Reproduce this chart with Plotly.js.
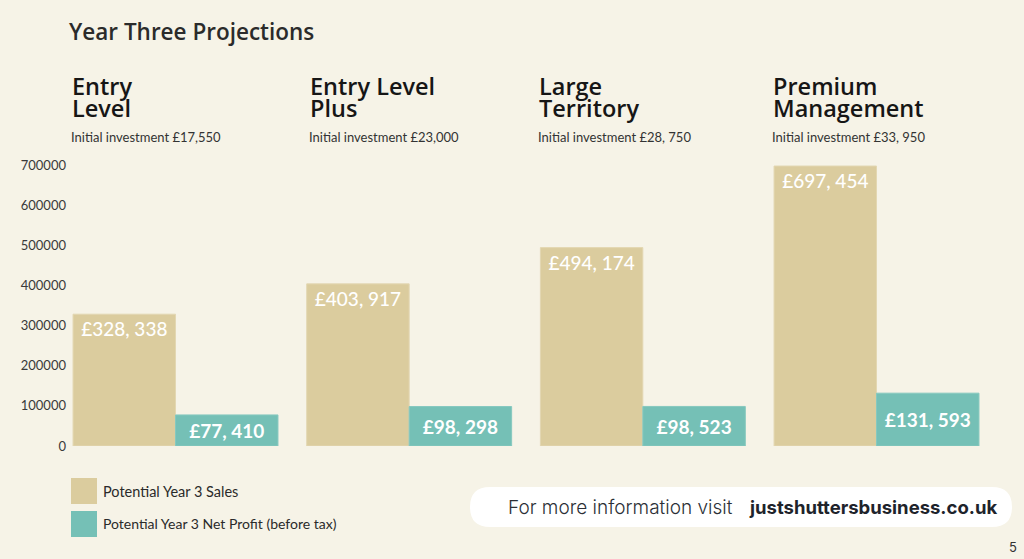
<!DOCTYPE html>
<html>
<head>
<meta charset="utf-8">
<script src="https://cdn.plot.ly/plotly-3.0.1.min.js"></script>
<style>html,body{margin:0;padding:0;background:#f6f3e7;}#chart{width:1024px;height:559px;}</style>
</head>
<body>
<div id="chart"></div>
<script>
// ---- data ----
const categories = ["Entry Level", "Entry Level Plus", "Large Territory", "Premium Management"];
const headingLines = [["Entry", "Level"], ["Entry Level", "Plus"], ["Large", "Territory"], ["Premium", "Management"]];
const investments = ["Initial investment £17,550", "Initial investment £23,000", "Initial investment £28, 750", "Initial investment £33, 950"];
const salesValues = [328338, 403917, 494174, 697454];
const profitValues = [77410, 98298, 98523, 131593];
const salesLabels = ["£328, 338", "£403, 917", "£494, 174", "£697, 454"];
const profitLabels = ["£77, 410", "£98, 298", "£98, 523", "£131, 593"];
const seriesNames = ["Potential Year 3 Sales", "Potential Year 3 Net Profit (before tax)"];
const yTicks = [0, 100000, 200000, 300000, 400000, 500000, 600000, 700000];

// ---- layout helpers ----
const W = 1024, H = 559;
const M = {l: 70, r: 31, t: 165, b: 113};
const PW = W - M.l - M.r, PH = H - M.t - M.b;
const px = x => (x - M.l) / PW;          // pixel -> paper x
const py = y => (H - M.b - y) / PH;      // pixel -> paper y
const SALES = "#dbcc9e", PROFIT = "#75c0b6";
const FONT = "Lato, 'Open Sans', sans-serif";
const HFONT = "'Open Sans', Lato, sans-serif";

const traces = [
  {type: "bar", x: categories, y: salesValues, name: seriesNames[0], text: salesLabels,
   marker: {color: SALES, line: {color: "#e3d7b2", width: 1}},
   textposition: "inside", insidetextanchor: "end", textangle: 0,
   textfont: {color: "#ffffff", size: 19, family: FONT, weight: 500},
   hoverinfo: "none", showlegend: false},
  {type: "bar", x: categories, y: profitValues, name: seriesNames[1], text: profitLabels,
   marker: {color: PROFIT, line: {color: "#86c8bf", width: 1}},
   textposition: "inside", insidetextanchor: "middle", textangle: 0,
   textfont: {color: "#ffffff", size: 19, family: FONT, weight: 700},
   hoverinfo: "none", showlegend: false}
];

const annotations = [];
const groupLeftPx = [73, 311, 540, 774];
categories.forEach((c, i) => {
  headingLines[i].forEach((ln, j) => {
    annotations.push({xref: "paper", yref: "paper", x: px(groupLeftPx[i] - 3), y: py(86 + j * 22),
      xanchor: "left", yanchor: "middle", showarrow: false, text: ln,
      font: {family: HFONT, size: 23.5, color: "#161616", weight: 600}});
  });
  annotations.push({xref: "paper", yref: "paper", x: px(groupLeftPx[i] - 4), y: py(137),
    xanchor: "left", yanchor: "middle", showarrow: false, text: investments[i],
    font: {family: FONT, size: 13, color: "#333333"}});
});
// legend text
annotations.push({xref: "paper", yref: "paper", x: px(101), y: py(491), xanchor: "left", yanchor: "middle",
  showarrow: false, text: seriesNames[0], font: {family: FONT, size: 14.5, color: "#2a2a2a"}});
annotations.push({xref: "paper", yref: "paper", x: px(101), y: py(523), xanchor: "left", yanchor: "middle",
  showarrow: false, text: seriesNames[1], font: {family: FONT, size: 14, color: "#2a2a2a"}});
// footer
annotations.push({xref: "paper", yref: "paper", x: px(506), y: py(507), xanchor: "left", yanchor: "middle",
  showarrow: false, text: "For more information visit", font: {family: "Inter, Lato, sans-serif", size: 19, color: "#2b2f36", weight: 300}});
annotations.push({xref: "paper", yref: "paper", x: px(747), y: py(507), xanchor: "left", yanchor: "middle",
  showarrow: false, text: "justshuttersbusiness.co.uk", font: {family: "Inter, Lato, sans-serif", size: 18.5, color: "#1e232b", weight: 700}});
annotations.push({xref: "paper", yref: "paper", x: px(1019), y: py(547), xanchor: "right", yanchor: "middle",
  showarrow: false, text: "5", font: {family: "Inter, Lato, sans-serif", size: 13, color: "#333"}});

function rect(x0, y0, x1, y1, color) {
  return {type: "rect", xref: "paper", yref: "paper", x0: px(x0), x1: px(x1), y0: py(y1), y1: py(y0),
    fillcolor: color, line: {width: 0}, layer: "above"};
}
// pill path in paper coords
const pl = 470, pr = 1012, pt = 487, pb = 527, r = 20;
const pill = {type: "path", xref: "paper", yref: "paper", layer: "below", fillcolor: "#ffffff", line: {width: 0},
  path: `M ${px(pl + r)} ${py(pt)} L ${px(pr - r)} ${py(pt)} Q ${px(pr)} ${py(pt)} ${px(pr)} ${py(pt + r)} ` +
        `Q ${px(pr)} ${py(pb)} ${px(pr - r)} ${py(pb)} L ${px(pl + r)} ${py(pb)} Q ${px(pl)} ${py(pb)} ${px(pl)} ${py(pt + r)} ` +
        `Q ${px(pl)} ${py(pt)} ${px(pl + r)} ${py(pt)} Z`};

const layout = {
  width: W, height: H,
  margin: M,
  paper_bgcolor: "#f6f3e7", plot_bgcolor: "rgba(0,0,0,0)",
  title: {text: "Year Three Projections", x: 69 / W, xref: "container", xanchor: "left",
    y: 1 - 32 / H, yref: "container", yanchor: "middle",
    font: {family: HFONT, size: 22.5, color: "#2b2b2b", weight: 600}},
  barmode: "group", bargap: 0.123, bargroupgap: 0,
  xaxis: {range: [(M.l - 175.5) / 233.67, (W - M.r - 175.5) / 233.67], showticklabels: false,
    showgrid: false, zeroline: false, showline: false, ticks: "", fixedrange: true},
  yaxis: {range: [0, 700000], tickvals: yTicks, ticktext: yTicks.map(String), showgrid: false, zeroline: false,
    showline: false, ticks: "", ticklabelstandoff: 3,
    tickfont: {family: FONT, size: 13, color: "#3a3a3a"}, fixedrange: true},
  annotations: annotations,
  shapes: [pill, rect(71, 478, 97, 504, SALES), rect(71, 511, 97, 537, PROFIT)],
  showlegend: false,
  font: {family: FONT}
};

Plotly.newPlot("chart", traces, layout, {displayModeBar: false, staticPlot: true});
</script>
</body>
</html>
